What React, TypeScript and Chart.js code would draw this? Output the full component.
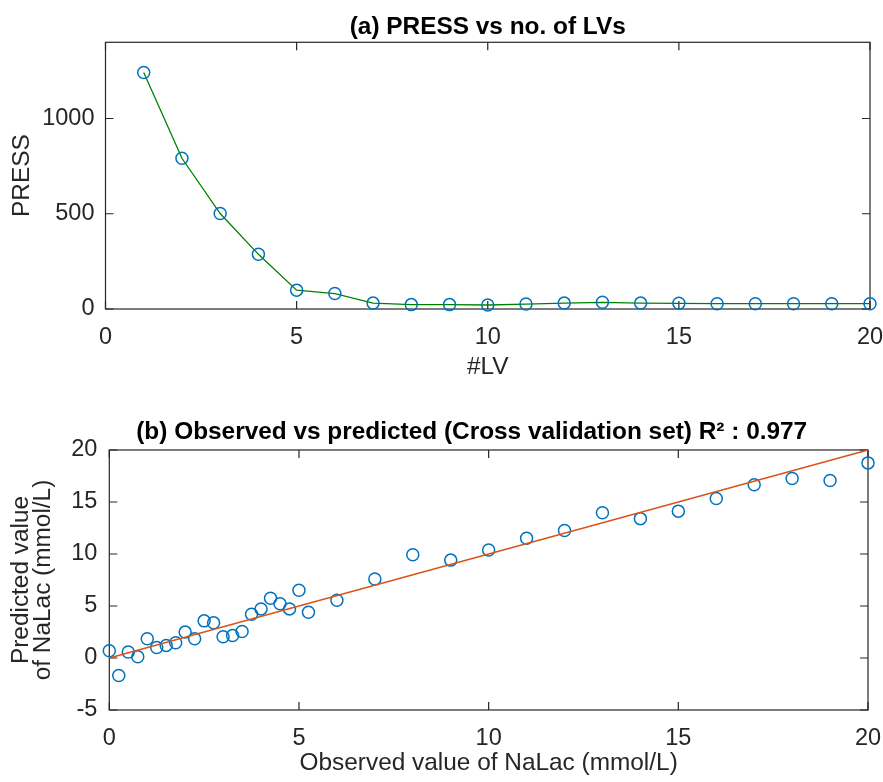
import React, { useEffect, useRef } from 'react';
import { Chart, registerables } from 'chart.js';

Chart.register(...registerables);

// ---------- data ----------
const lvNumbers = [1, 2, 3, 4, 5, 6, 7, 8, 9, 10, 11, 12, 13, 14, 15, 16, 17, 18, 19, 20];
const pressValues = [1241, 791, 501, 287, 99, 81, 31, 23, 23, 21, 26, 31, 35, 31, 30, 28, 28, 28, 28, 28];
const topXTicks = [0, 5, 10, 15, 20];
const topYTicks = [0, 500, 1000];

const observedValues = [
  0, 0.25, 0.5, 0.75, 1, 1.25, 1.5, 1.75, 2, 2.25, 2.5, 2.75, 3, 3.25, 3.5, 3.75, 4, 4.25, 4.5, 4.75, 5, 5.25,
  6, 7, 8, 9, 10, 11, 12, 13, 14, 15, 16, 17, 18, 19, 20,
];
const predictedValues = [
  0.7, -1.69, 0.57, 0.12, 1.85, 1.01, 1.21, 1.46, 2.49, 1.85, 3.57, 3.38, 2.04, 2.16, 2.55, 4.21, 4.72, 5.74, 5.22, 4.72, 6.51, 4.4,
  5.56, 7.59, 9.93, 9.41, 10.39, 11.51, 12.25, 13.97, 13.4, 14.12, 15.34, 16.65, 17.25, 17.06, 18.76,
];
const idealLineEnds = [0, 20]; // y = x reference line
const bottomXTicks = [0, 5, 10, 15, 20];
const bottomYTicks = [-5, 0, 5, 10, 15, 20];

// ---------- styles ----------
const FONT = "'Liberation Sans', Arial, Helvetica, sans-serif";
const AXIS_COLOR = '#262626';
const MARKER_BLUE = '#0072BD';
const LINE_GREEN = '#008000';
const LINE_ORANGE = '#D95319';
const W = 883;

const boxPlugin = {
  id: 'matlabBox',
  beforeDatasetsDraw(chart: any) {
    const { ctx, chartArea: a, scales } = chart;
    ctx.save();
    ctx.strokeStyle = AXIS_COLOR;
    ctx.lineWidth = 1.2;
    ctx.strokeRect(a.left, a.top, a.right - a.left, a.bottom - a.top);
    const L = 8;
    ctx.beginPath();
    scales.x.ticks.forEach((t: any) => {
      const px = scales.x.getPixelForValue(t.value);
      ctx.moveTo(px, a.bottom);
      ctx.lineTo(px, a.bottom - L);
      ctx.moveTo(px, a.top);
      ctx.lineTo(px, a.top + L);
    });
    scales.y.ticks.forEach((t: any) => {
      const py = scales.y.getPixelForValue(t.value);
      ctx.moveTo(a.left, py);
      ctx.lineTo(a.left + L, py);
      ctx.moveTo(a.right, py);
      ctx.lineTo(a.right - L, py);
    });
    ctx.stroke();
    ctx.restore();
  },
};

const tickFont = { family: FONT, size: 23.5 };
const labelFont = { family: FONT, size: 24.4 };
const titleFont = { family: FONT, size: 24.4, weight: 'bold' as const };

function makeAxis(opts: {
  min: number;
  max: number;
  ticks: number[];
  size: number;
  horizontal: boolean;
  title: string | string[];
  titlePad: any;
  tickPad: number;
  titleLineHeight?: number;
}) {
  return {
    type: 'linear',
    min: opts.min,
    max: opts.max,
    afterBuildTicks: (scale: any) => {
      scale.ticks = opts.ticks.map((v) => ({ value: v }));
    },
    afterFit: (scale: any) => {
      if (opts.horizontal) scale.height = opts.size;
      else scale.width = opts.size;
      scale.paddingLeft = 0;
      scale.paddingRight = 0;
      scale.paddingTop = 0;
      scale.paddingBottom = 0;
    },
    grid: { display: false, drawTicks: false },
    border: { display: false },
    ticks: {
      font: tickFont,
      color: AXIS_COLOR,
      padding: opts.tickPad,
      maxRotation: 0,
      autoSkip: false,
      callback: (v: any) => String(v),
    },
    title: {
      display: true,
      text: opts.title,
      color: AXIS_COLOR,
      font: { ...labelFont, lineHeight: opts.titleLineHeight ?? 1.2 },
      padding: opts.titlePad,
    },
  };
}

function TopChart() {
  const ref = useRef<HTMLCanvasElement>(null);
  useEffect(() => {
    if (!ref.current) return;
    const chart = new Chart(ref.current, {
      type: 'line',
      data: {
        datasets: [
          {
            data: lvNumbers.map((x, i) => ({ x, y: pressValues[i] })),
            borderColor: LINE_GREEN,
            borderWidth: 1.3,
            pointStyle: 'circle',
            pointRadius: 6,
            pointBorderWidth: 1.5,
            pointBorderColor: MARKER_BLUE,
            pointBackgroundColor: 'rgba(0,0,0,0)',
            pointHoverRadius: 6,
            tension: 0,
            clip: false,
          } as any,
        ],
      },
      options: {
        animation: false,
        responsive: false,
        devicePixelRatio: 1,
        events: [],
        layout: { padding: { left: 0, right: 13, top: 0, bottom: 0 } },
        plugins: {
          legend: { display: false },
          tooltip: { enabled: false },
          title: {
            display: true,
            fullSize: false,
            text: '(a) PRESS vs no. of LVs',
            color: '#000',
            font: titleFont,
            padding: { top: 13, bottom: 0 },
          },
        },
        scales: {
          x: makeAxis({
            min: 0, max: 20, ticks: topXTicks, size: 91, horizontal: true,
            title: '#LV', titlePad: { top: 0, bottom: 18 }, tickPad: 14.5,
          }),
          y: makeAxis({
            min: 0, max: 1400, ticks: topYTicks, size: 105.5, horizontal: false,
            title: 'PRESS', titlePad: { top: 8, bottom: 0 }, tickPad: 11,
          }),
        } as any,
      },
      plugins: [boxPlugin],
    });
    return () => chart.destroy();
  }, []);
  return <canvas ref={ref} width={W} height={400} style={{ position: 'absolute', left: 0, top: 0 }} />;
}

function BottomChart() {
  const ref = useRef<HTMLCanvasElement>(null);
  useEffect(() => {
    if (!ref.current) return;
    const chart = new Chart(ref.current, {
      type: 'scatter',
      data: {
        datasets: [
          {
            type: 'line',
            data: idealLineEnds.map((v) => ({ x: v, y: v })),
            borderColor: LINE_ORANGE,
            borderWidth: 1.4,
            pointRadius: 0,
            showLine: true,
            clip: false,
          } as any,
          {
            data: observedValues.map((x, i) => ({ x, y: predictedValues[i] })),
            pointStyle: 'circle',
            pointRadius: 6,
            pointBorderWidth: 1.5,
            pointBorderColor: MARKER_BLUE,
            pointBackgroundColor: 'rgba(0,0,0,0)',
            pointHoverRadius: 6,
            clip: false,
          } as any,
        ],
      },
      options: {
        animation: false,
        responsive: false,
        devicePixelRatio: 1,
        events: [],
        layout: { padding: { left: 0, right: 15, top: 0, bottom: 0 } },
        plugins: {
          legend: { display: false },
          tooltip: { enabled: false },
          title: {
            display: true,
            fullSize: false,
            text: '(b) Observed vs predicted (Cross validation set) R² : 0.977     ',
            color: '#000',
            font: titleFont,
            padding: { top: 18, bottom: 2.7 },
          },
        },
        scales: {
          x: makeAxis({
            min: 0, max: 20, ticks: bottomXTicks, size: 72, horizontal: true,
            title: 'Observed value of NaLac (mmol/L)', titlePad: { top: 0, bottom: 4 }, tickPad: 14.5,
          }),
          y: makeAxis({
            min: -5, max: 20, ticks: bottomYTicks, size: 109.3, horizontal: false,
            title: ['Predicted value', 'of NaLac (mmol/L)'], titlePad: { top: 11, bottom: 0 }, tickPad: 12,
            titleLineHeight: 0.875,
          }),
        } as any,
      },
      plugins: [boxPlugin],
    });
    return () => chart.destroy();
  }, []);
  return <canvas ref={ref} width={W} height={382} style={{ position: 'absolute', left: 0, top: 400 }} />;
}

export default function App() {
  return (
    <div style={{ position: 'absolute', left: 0, top: 0, width: W, height: 782, background: '#fff' }}>
      <TopChart />
      <BottomChart />
    </div>
  );
}
